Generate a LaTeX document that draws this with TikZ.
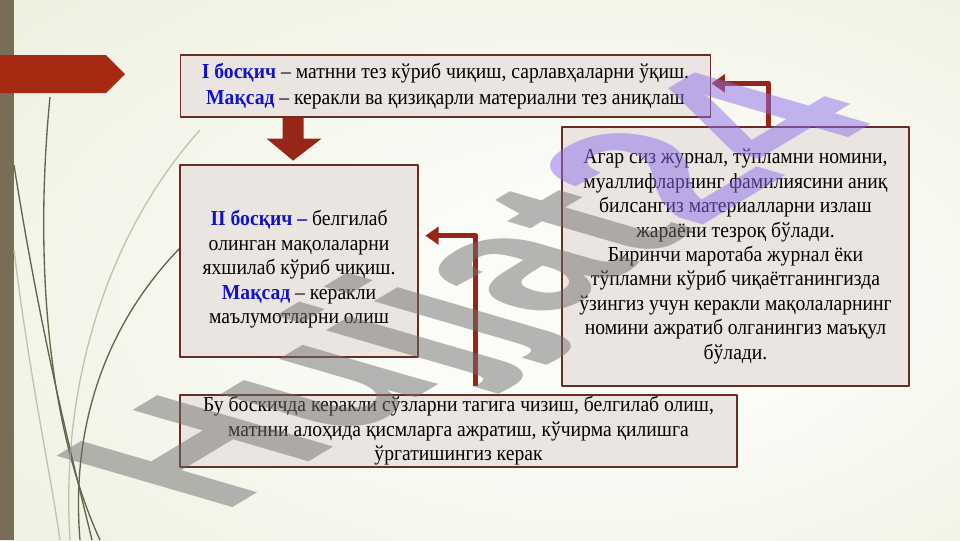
\documentclass[tikz,border=0pt]{standalone}
\usepackage{fontspec}
\setmainfont[FakeStretch=0.92]{Liberation Serif}
\newfontfamily\wmfont{Liberation Sans}
\usetikzlibrary{arrows.meta,calc}
\definecolor{bgin}{RGB}{251,251,247}
\definecolor{bgout}{RGB}{225,232,203}
\definecolor{stripe}{RGB}{121,109,88}
\definecolor{brick}{RGB}{166,41,17}
\definecolor{boxfill}{RGB}{235,229,226}
\definecolor{boxline}{RGB}{105,45,35}
\definecolor{darkred}{RGB}{152,38,24}
\definecolor{stepblue}{RGB}{18,18,200}
\definecolor{leaf}{RGB}{100,100,74}
\definecolor{leaflight}{RGB}{190,196,170}
\definecolor{wmgray}{RGB}{110,110,110}
\definecolor{wmpurple}{RGB}{140,110,235}
\pgfdeclareradialshading{slidebg}{\pgfpoint{8bp}{-4bp}}{color(0bp)=(bgin); color(12bp)=(bgin); color(62bp)=(bgout); color(75bp)=(bgout)}
\newcommand\bluebold[1]{\textcolor{stepblue}{\textbf{#1}}}
\begin{document}
\begin{tikzpicture}[x=0.75pt, y=-0.75pt, font=\fontsize{16}{18.3}\selectfont, line join=round,
  stepbox/.style={draw=boxline, line width=0.9pt, fill=boxfill, align=center, inner sep=0pt},
  elbow/.style={draw=darkred, line width=3.6pt, -{Triangle[length=10pt,width=13pt]}},
  leafline/.style={draw=leaf, line width=1pt}]
% background of the slide
\shade[shading=slidebg] (0,0) rectangle (960,540);
\useasboundingbox (0,0) rectangle (960,540);
\fill[stripe] (0,0) rectangle (14,540);
\fill[brick] (0,55) -- (106,55) -- (125,74) -- (106,93) -- (0,93) -- cycle;
% thin leaves at the left
\draw[leafline] (50,97) .. controls (35,250) and (45,420) .. (100,540);
\draw[leafline] (14,165) .. controls (40,330) and (70,450) .. (92,540);
\draw[leafline] (180,248) .. controls (110,320) and (70,420) .. (80,540);
\draw[leafline, leaflight] (200,130) .. controls (110,230) and (60,380) .. (70,540);
\draw[leafline, leaflight] (14,250) .. controls (30,380) and (50,470) .. (60,540);
% the four boxes
\node[stepbox, font=\fontsize{16}{19.5}\selectfont, minimum width=398pt, minimum height=46.5pt] (stepone) at (445.5,86)
  {\bluebold{I босқич} – матнни тез кўриб чиқиш, сарлавҳаларни ўқиш.\\
   \bluebold{Мақсад} – керакли ва қизиқарли материални тез аниқлаш};
\node[stepbox, minimum width=178.5pt, minimum height=144pt] (steptwo) at (299,261)
  {\mbox{}\\[5.7pt]\bluebold{II босқич –} белгилаб\\ олинган мақолаларни\\ яхшилаб кўриб чиқиш.\\
   \bluebold{Мақсад} – керакли\\ маълумотларни олиш};
\node[stepbox, minimum width=260.25pt, minimum height=194.25pt] (hint) at (735.5,256.5)
  {Агар сиз журнал, тўпламни номини,\\ муаллифларнинг фамилиясини аниқ\\ билсангиз материалларни излаш\\
   жараёни тезроқ бўлади.\\ Биринчи маротаба журнал ёки\\ тўпламни кўриб чиқаётганингизда\\
   ўзингиз учун керакли мақолаларнинг\\ номини ажратиб олганингиз маъқул\\ бўлади.};
\node[stepbox, minimum width=417.75pt, minimum height=54pt] (stepnote) at (458.5,431)
  {Бу боскичда керакли сўзларни тагига чизиш, белгилаб олиш,\\
   матнни алоҳида қисмларга ажратиш, кўчирма қилишга\\ ўргатишингиз керак};
% arrows
\fill[darkred] ($(stepone.south west)+(103,0)$) -- ++(21,0) -- ++(0,21) -- ++(18,0)
  -- ++(-28.5,22) -- ++(-26.5,-22) -- ++(16,0) -- cycle;
\draw[elbow] ([xshift=25pt]hint.north) |- ([yshift=2pt]stepone.east);
\draw[elbow] ([xshift=13pt,yshift=6pt]stepnote.north) |- ([xshift=5pt,yshift=19pt]steptwo.east);
% watermark
\begin{scope}[cm={1.286,0.773,-1.92,0.56,(221,515)}]
\node[transform shape, anchor=base west, inner sep=0pt, opacity=0.5,
  font=\wmfont\bfseries\fontsize{100}{100}\selectfont] (wmark) at (0,0)
  {\textcolor{wmgray}{Hujjat}\textcolor{wmpurple}{24}};
\end{scope}
\end{tikzpicture}
\end{document}
